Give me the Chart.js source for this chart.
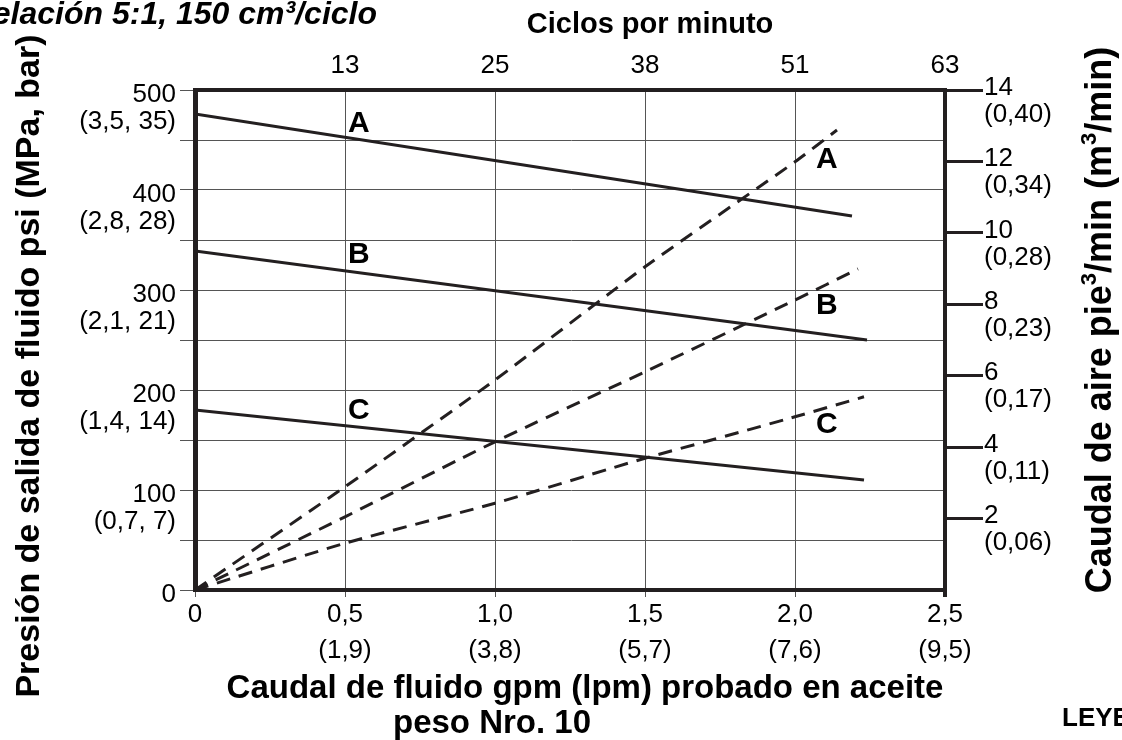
<!DOCTYPE html>
<html>
<head>
<meta charset="utf-8">
<script src="https://cdn.jsdelivr.net/npm/chart.js@4/dist/chart.umd.min.js"></script>
<style>
html,body{margin:0;padding:0;background:#fff;overflow:hidden}
#wrap{width:1122px;height:740px;position:relative}
</style>
</head>
<body>
<div id="wrap"><canvas id="c" width="1122" height="740"></canvas></div>
<script>
// ---------- tick labels ----------
const gpmTicks   = ['0', '0,5', '1,0', '1,5', '2,0', '2,5'];
const lpmTicks   = ['', '(1,9)', '(3,8)', '(5,7)', '(7,6)', '(9,5)'];
const cycleTicks = ['', '13', '25', '38', '51', '63'];
const psiTicks   = ['0', '100', '200', '300', '400', '500'];
const mpaBarTicks = ['', '(0,7, 7)', '(1,4, 14)', '(2,1, 21)', '(2,8, 28)', '(3,5, 35)'];
const cfmTicks   = ['2', '4', '6', '8', '10', '12', '14'];
const m3Ticks    = ['(0,06)', '(0,11)', '(0,17)', '(0,23)', '(0,28)', '(0,34)', '(0,40)'];

// ---------- series: fluid outlet pressure (psi) vs fluid flow (gpm) ----------
const curveNames = ['A', 'B', 'C'];
const fluidGpmA = [0, 2.19];  const fluidPsiA = [476, 374];
const fluidGpmB = [0, 2.24];  const fluidPsiB = [339, 250];
const fluidGpmC = [0, 2.23];  const fluidPsiC = [180, 110];

// ---------- series: air consumption (scfm) vs fluid flow (gpm) ----------
const airGpmA = [0, 0.5, 1.0, 1.5, 2.0, 2.14];       const airCfmA = [0, 2.89, 5.88, 9.05, 11.99, 12.88];
const airGpmB = [0, 0.5, 1.0, 1.5, 2.0, 2.21];       const airCfmB = [0, 2.05, 4.15, 6.11, 8.12, 8.99];
const airGpmC = [0, 0.5, 1.0, 1.5, 1.7, 2.0, 2.23];  const airCfmC = [0, 1.31, 2.43, 3.69, 4.15, 4.85, 5.41];

// ---------- curve letter anchors (data coordinates) ----------
const fluidLabelGpm = [0.51, 0.51, 0.51];  const fluidLabelPsi = [466, 335, 179];
const airLabelGpm   = [2.07, 2.07, 2.07];  const airLabelCfm   = [12.04, 7.95, 4.62];

const INK = '#231f20';
const GRID = '#555555';
const FONT = '"Liberation Sans", Arial, Helvetica, sans-serif';

const pts = (xs, ys) => xs.map((x, i) => ({x: x, y: ys[i]}));

function solid(name, xs, ys) {
  return {label: 'Presión ' + name, data: pts(xs, ys), yAxisID: 'y', borderColor: INK,
          borderWidth: 3, pointRadius: 0, tension: 0, fill: false};
}
function dashed(name, xs, ys) {
  return {label: 'Aire ' + name, data: pts(xs, ys), yAxisID: 'y2', borderColor: INK,
          borderWidth: 3, borderDash: [14, 9], pointRadius: 0, tension: 0.2, fill: false};
}

// draw text made of [string, isSuperscript] parts, centred on (0,0)
function drawRich(ctx, parts, size) {
  const big = 'bold ' + size + 'px ' + FONT;
  const small = 'bold ' + Math.round(size * 0.6) + 'px ' + FONT;
  let total = 0;
  parts.forEach(p => { ctx.font = p[1] ? small : big; total += ctx.measureText(p[0]).width; });
  let x = -total / 2;
  ctx.textAlign = 'left';
  parts.forEach(p => {
    ctx.font = p[1] ? small : big;
    ctx.fillText(p[0], x, p[1] ? -size * 0.32 : 0);
    x += ctx.measureText(p[0]).width;
  });
}

const textPlugin = {
  id: 'texts',
  afterDraw(chart) {
    const ctx = chart.ctx;
    const sx = chart.scales.x, sy = chart.scales.y, sy2 = chart.scales.y2;
    ctx.save();
    ctx.fillStyle = '#000';
    ctx.textBaseline = 'middle';

    // curve letters
    ctx.font = 'bold 30px ' + FONT;
    ctx.textAlign = 'left';
    curveNames.forEach((n, i) => {
      ctx.fillText(n, sx.getPixelForValue(fluidLabelGpm[i]), sy.getPixelForValue(fluidLabelPsi[i]));
      ctx.fillText(n, sx.getPixelForValue(airLabelGpm[i]), sy2.getPixelForValue(airLabelCfm[i]));
    });

    // header (cut off at the left edge in the original)
    ctx.font = 'italic bold 32px ' + FONT;
    ctx.textAlign = 'right';
    ctx.fillText('Relación 5:1, 150 cm³/ciclo', 377, 15);

    // top axis title
    ctx.font = 'bold 29px ' + FONT;
    ctx.textAlign = 'center';
    ctx.fillText('Ciclos por minuto', 650, 25);

    // bottom axis title
    ctx.font = 'bold 33px ' + FONT;
    ctx.fillText('Caudal de fluido gpm (lpm) probado en aceite', 585, 689);
    ctx.fillText('peso Nro. 10', 492, 724);

    // legend header, cut at the right edge
    ctx.font = 'bold 26px ' + FONT;
    ctx.textAlign = 'left';
    ctx.fillText('LEYENDA', 1062, 719);

    // left title
    ctx.save();
    ctx.translate(30, 366);
    ctx.rotate(-Math.PI / 2);
    ctx.font = 'bold 34px ' + FONT;
    ctx.textAlign = 'center';
    ctx.fillText('Presión de salida de fluido psi (MPa, bar)', 0, 0);
    ctx.restore();

    // right title
    ctx.save();
    ctx.translate(1101, 320);
    ctx.rotate(-Math.PI / 2);
    drawRich(ctx, [['Caudal de aire pie', false], ['3', true], ['/min (m', false], ['3', true], ['/min)', false]], 36);
    ctx.restore();

    ctx.restore();
  }
};

const TS = 26;

new Chart(document.getElementById('c'), {
  type: 'line',
  data: {
    datasets: [
      solid('A', fluidGpmA, fluidPsiA),
      solid('B', fluidGpmB, fluidPsiB),
      solid('C', fluidGpmC, fluidPsiC),
      dashed('A', airGpmA, airCfmA),
      dashed('B', airGpmB, airCfmB),
      dashed('C', airGpmC, airCfmC)
    ]
  },
  options: {
    responsive: false,
    maintainAspectRatio: false,
    animation: false,
    devicePixelRatio: 1,
    layout: {padding: 0},
    plugins: {legend: {display: false}, tooltip: {enabled: false}},
    scales: {
      x: {
        type: 'linear', position: 'bottom', min: 0, max: 2.5,
        afterFit: s => { s.height = 150; },
        ticks: {
          stepSize: 0.5, autoSkip: false, maxRotation: 0, padding: 0, color: '#000',
          font: {family: FONT, size: TS, lineHeight: 36 / TS},
          callback: v => { const i = Math.round(v / 0.5); return lpmTicks[i] ? [gpmTicks[i], lpmTicks[i]] : gpmTicks[i]; }
        },
        grid: {
          color: ctx => (ctx.tick && ctx.tick.value === 2.5) ? INK : GRID,
          lineWidth: ctx => (ctx.tick && ctx.tick.value === 2.5) ? 4 : 1,
          tickLength: 7
        },
        border: {display: true, color: INK, width: 4}
      },
      xTop: {
        type: 'linear', position: 'top', min: 0, max: 2.5,
        afterFit: s => { s.height = 90; },
        ticks: {
          stepSize: 0.5, autoSkip: false, maxRotation: 0, padding: 9, color: '#000',
          font: {family: FONT, size: TS},
          callback: v => cycleTicks[Math.round(v / 0.5)]
        },
        grid: {drawOnChartArea: false, drawTicks: false},
        border: {display: true, color: INK, width: 4}
      },
      y: {
        type: 'linear', position: 'left', min: 0, max: 500,
        afterFit: s => { s.width = 195; },
        ticks: {
          stepSize: 50, autoSkip: false, padding: 4, labelOffset: 18, color: '#000',
          font: {family: FONT, size: TS, lineHeight: 27 / TS},
          callback: v => (v % 100 === 0) ? [psiTicks[v / 100], mpaBarTicks[v / 100]] : ''
        },
        grid: {color: GRID, lineWidth: 1, tickLength: 15},
        border: {display: true, color: INK, width: 5}
      },
      y2: {
        type: 'linear', position: 'right', min: 0, max: 14,
        afterFit: s => { s.width = 177; },
        ticks: {
          stepSize: 2, autoSkip: false, padding: 1, labelOffset: 11, color: '#000',
          font: {family: FONT, size: TS, lineHeight: 27 / TS},
          callback: v => v === 0 ? '' : [cfmTicks[v / 2 - 1], m3Ticks[v / 2 - 1]]
        },
        grid: {
          drawOnChartArea: false, tickLength: 38, lineWidth: 3,
          color: ctx => (ctx.tick && ctx.tick.value === 0) ? 'rgba(0,0,0,0)' : INK
        },
        border: {display: true, color: INK, width: 4}
      }
    }
  },
  plugins: [textPlugin]
});
</script>
</body>
</html>
